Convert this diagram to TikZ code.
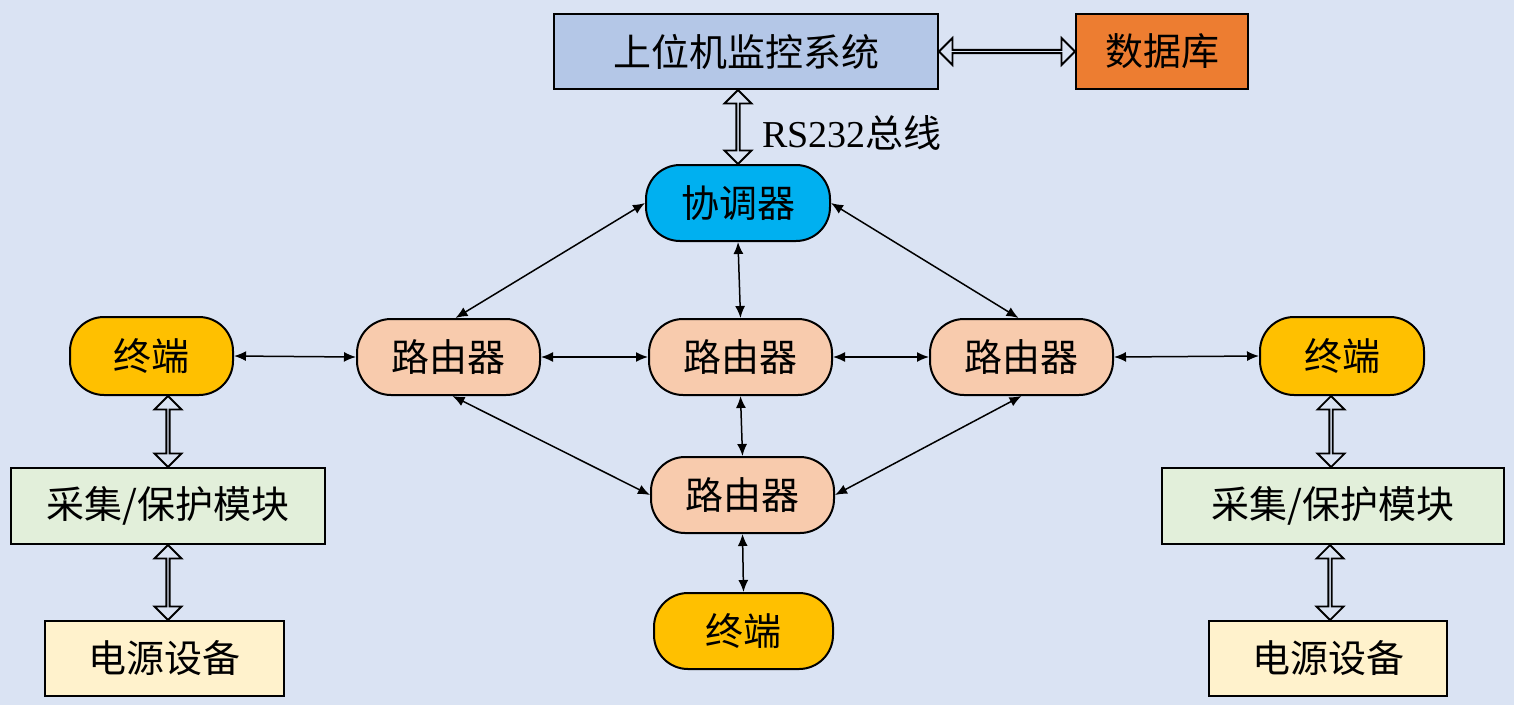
\documentclass[tikz,border=0pt]{standalone}
\usepackage{fontspec}
\setmainfont{Liberation Serif}
\newfontfamily\cjk{Noto Sans CJK SC}
\usetikzlibrary{arrows.meta,shapes.arrows,calc}
\definecolor{bgc}{HTML}{DAE3F3}
\definecolor{sysc}{HTML}{B4C7E7}
\definecolor{dbc}{HTML}{ED7D31}
\definecolor{coc}{HTML}{00B0F0}
\definecolor{rtc}{HTML}{F8CBAD}
\definecolor{tmc}{HTML}{FFC000}
\definecolor{clc}{HTML}{E2EFDA}
\definecolor{pwc}{HTML}{FFF2CC}
\begin{document}
\begin{tikzpicture}[x=1pt,y=-1pt,
  box/.style={draw=black, line width=2pt, inner sep=0pt,
    font=\cjk\fontsize{38pt}{42pt}\selectfont},
  sq/.style={box, rectangle},
  pill/.style={box, rectangle, rounded corners=34pt, minimum width=183pt, minimum height=76pt},
  lnk/.style={line width=1.5pt, {Latex[length=12pt,width=10pt]}-{Latex[length=12pt,width=10pt]}},
  dbl/.style={double arrow, draw=black, fill=bgc, line width=1.8pt, inner sep=0pt,
    minimum width=27pt, double arrow head extend=6.5pt, sloped, anchor=center}]
\useasboundingbox (0,0) rectangle (1514,705);
\fill[bgc] (0,0) rectangle (1514,705);
% nodes
\node[sq, fill=sysc, minimum width=384pt, minimum height=75pt] (sys) at (746,51.5) {上位机监控系统};
\node[sq, fill=dbc, minimum width=172pt, minimum height=75pt] (db) at (1162,51.5) {数据库};
\node[pill, fill=coc, minimum width=184pt] (co) at (738,203) {协调器};
\node[pill, fill=rtc] (rl) at (448.5,357) {路由器};
\node[pill, fill=rtc] (rm) at (740.5,357) {路由器};
\node[pill, fill=rtc] (rr) at (1021.5,357) {路由器};
\node[pill, fill=rtc] (rb) at (742.5,495) {路由器};
\node[pill, fill=tmc, minimum width=163pt, minimum height=78pt] (tl) at (151.5,356) {终端};
\node[pill, fill=tmc, minimum width=164pt, minimum height=78pt] (tr) at (1342,356) {终端};
\node[pill, fill=tmc, minimum width=179pt] (tb) at (743.5,631) {终端};
\node[sq, fill=clc, minimum width=314pt, minimum height=76pt] (cl) at (168,506) {采集/保护模块};
\node[sq, fill=clc, minimum width=342pt, minimum height=76pt] (cr) at (1333,506) {采集/保护模块};
\node[sq, fill=pwc, minimum width=239pt, minimum height=75pt] (pl) at (164.5,658.5) {电源设备};
\node[sq, fill=pwc, minimum width=238pt, minimum height=75pt] (pr) at (1328,658.5) {电源设备};
\node[anchor=west, inner sep=0pt, font=\fontsize{38pt}{42pt}\selectfont] (rs) at (762,133) {RS232{\cjk 总线}};
% thin links
\draw[lnk] (tl.east) -- (rl.west);
\draw[lnk] (rl.east) -- (rm.west);
\draw[lnk] (rm.east) -- (rr.west);
\draw[lnk] (rr.east) -- (tr.west);
\draw[lnk] (co.west) -- ([xshift=7pt]rl.north);
\draw[lnk] (co.east) -- ([xshift=-3pt]rr.north);
\draw[lnk] (co.south) -- (rm.north);
\draw[lnk] (rm.south) -- (rb.north);
\draw[lnk] ([xshift=4pt]rl.south) -- (rb.west);
\draw[lnk] (rr.south) -- (rb.east);
\draw[lnk] (rb.south) -- (tb.north);
% double arrows
\coordinate (c1) at (co.north |- sys.south);
\coordinate (c2) at (cl.north |- tl.south);
\coordinate (c3) at (cl.south |- pl.north);
\coordinate (c4) at ([xshift=-2pt]cr.north |- tr.south);
\coordinate (c4b) at ([xshift=-2pt]cr.north);
\coordinate (c5) at ([xshift=-3pt]cr.south);
\coordinate (c5b) at (c5 |- pr.north);
\foreach \a/\b in {sys.east/db.west, c1/co.north, c2/cl.north, c3/cl.south, c4/c4b, c5/c5b}{
  \path let \p1=($(\b)-(\a)$), \n1={veclen(\x1,\y1)} in
    (\a) -- node[dbl, minimum height=\n1] {} (\b);
}
\end{tikzpicture}
\end{document}
